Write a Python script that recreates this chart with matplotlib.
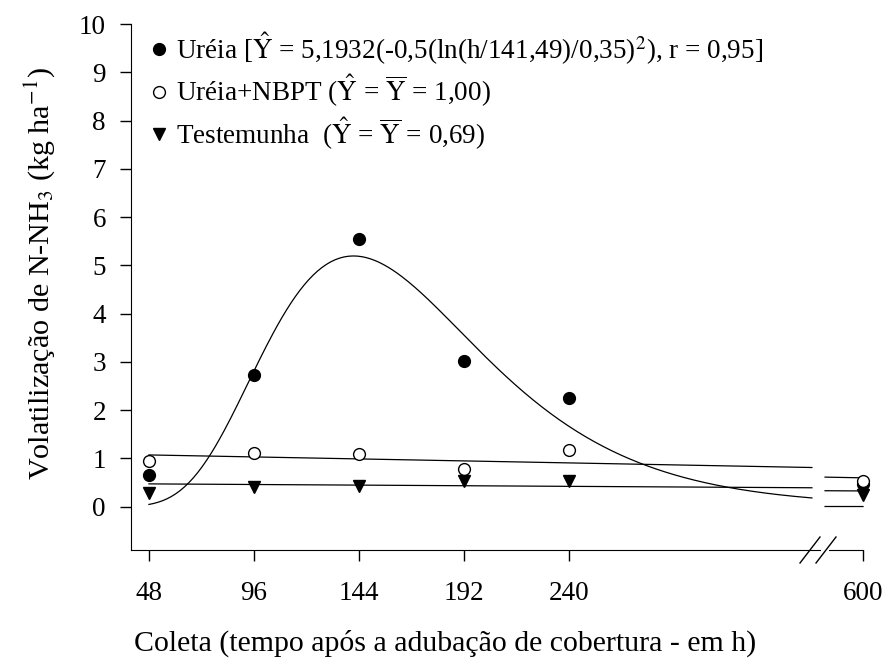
import matplotlib.pyplot as plt
import numpy as np

plt.rcParams['font.family'] = ['Liberation Serif', 'DejaVu Serif']
plt.rcParams['mathtext.fontset'] = 'stix'

# dados
coleta = [48, 96, 144, 192, 240, 600]
ureia = [0.66, 2.73, 5.54, 3.02, 2.26, 0.46]
ureia_nbpt = [0.95, 1.12, 1.08, 0.78, 1.17, 0.53]
testemunha = [0.29, 0.40, 0.43, 0.52, 0.52, 0.24]

# ajustes (parametros da equacao e retas)
a, h0, b = 5.1932, 141.49, 0.35
nbpt_ini, nbpt_incl = 1.07, -0.00086
test_ini, test_incl = 0.47, -0.000265

xticks = [48, 96, 144, 192, 240, 600]


def gauss(h):
    return a * np.exp(-0.5 * (np.log(h / h0) / b) ** 2)


def reta(h, ini, incl):
    return ini + incl * (h - 48)


fig = plt.figure(figsize=(8.87, 6.59), dpi=100)
W, H = 887, 659
ax = fig.add_axes([131 / W, 1 - 550 / H, (820 - 131) / W, (550 - 24) / H])
ax2 = fig.add_axes([829 / W, 1 - 550 / H, (863 - 829) / W, (550 - 24) / H])

ymin, ymax = -0.9, 10
ax.set_xlim(39.8, 354.7)
ax2.set_xlim(584.5, 600)
for a_ in (ax, ax2):
    a_.set_ylim(ymin, ymax)
    a_.spines['top'].set_visible(False)
    a_.spines['right'].set_visible(False)
    a_.patch.set_alpha(0)
ax2.spines['left'].set_visible(False)
ax2.set_yticks([])

h1 = np.linspace(48, 351, 300)
h2 = np.linspace(582.7, 600, 20)
for a_, hh in ((ax, h1), (ax2, h2)):
    a_.plot(hh, gauss(hh), color='black', lw=0.9, clip_on=False)
    a_.plot(hh, reta(hh, nbpt_ini, nbpt_incl), color='black', lw=0.9, clip_on=False)
    a_.plot(hh, reta(hh, test_ini, test_incl), color='black', lw=0.9, clip_on=False)

ms = 8.5
lab1 = r'Uréia [$\hat{\mathrm{Y}}$ = 5,1932(-0,5(ln(h/141,49)/0,35)$^2$), r = 0,95]'
lab2 = r'Uréia+NBPT ($\hat{\mathrm{Y}}$ = $\overline{\mathrm{Y}}$ = 1,00)'
lab3 = r'Testemunha  ($\hat{\mathrm{Y}}$ = $\overline{\mathrm{Y}}$ = 0,69)'
handles = []
for a_, sl in ((ax, slice(0, 5)), (ax2, slice(5, 6))):
    p1, = a_.plot(coleta[sl], ureia[sl], 'o', color='black', ms=ms, ls='none',
                  clip_on=False, zorder=3)
    p2, = a_.plot(coleta[sl], ureia_nbpt[sl], 'o', mfc='white', mec='black', mew=1.0,
                  ms=ms, ls='none', clip_on=False, zorder=4)
    p3, = a_.plot(coleta[sl], testemunha[sl], 'v', color='black', ms=ms + 0.5,
                  ls='none', clip_on=False, zorder=3)
    handles = [p1, p2, p3]

ax.set_yticks(range(0, 11))
ax.set_xticks(xticks[:5])
ax2.set_xticks(xticks[5:])
for a_ in (ax, ax2):
    a_.tick_params(direction='out', length=8, width=1, labelsize=19.5)
    a_.tick_params(axis='y', pad=10)
    a_.tick_params(axis='x', pad=14)

fig.text(40 / W, 1 - 274 / H, r'Volatilização de N-NH$_3$ (kg ha$^{-1}$)',
         rotation=90, ha='center', va='center', fontsize=21.7)
fig.text(445 / W, 1 - 643 / H,
         'Coleta (tempo após a adubação de cobertura - em h)',
         ha='center', va='center', fontsize=21.5)

ax.legend(handles, [lab1, lab2, lab3], loc='upper left', frameon=False,
          fontsize=19.5, handlelength=0.6, handletextpad=0.33, labelspacing=0.22,
          borderpad=0, borderaxespad=0,
          bbox_to_anchor=(151 / W, 1 - 30 / H), bbox_transform=fig.transFigure)

# marcas de quebra do eixo x
yb = 1 - 550 / H
for xp in (810, 826):
    fig.add_artist(plt.Line2D([(xp - 10) / W, (xp + 10) / W], [yb - 13 / H, yb + 13 / H],
                              color='black', lw=1.0))

fig.savefig('out.png', dpi=100)
